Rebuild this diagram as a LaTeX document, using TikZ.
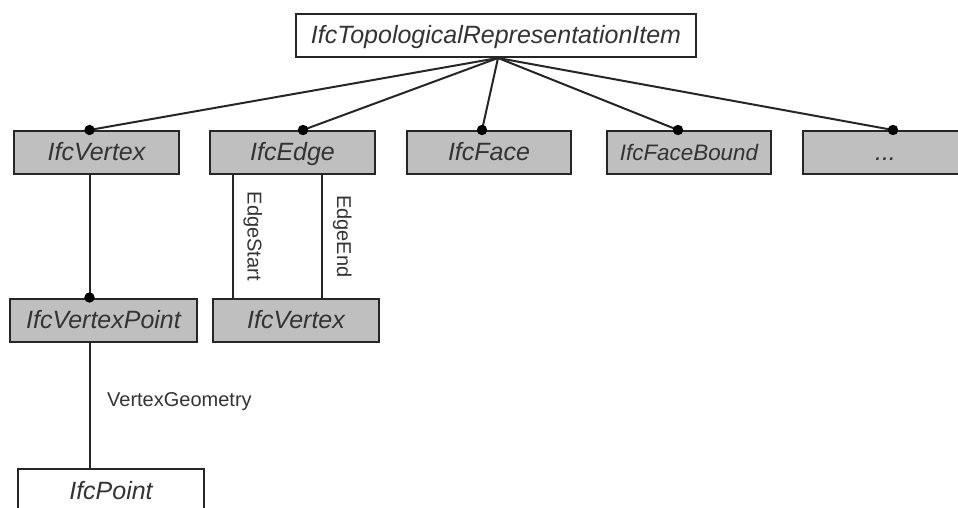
\documentclass[tikz,border=0pt]{standalone}
\usepackage{fontspec}
\setmainfont{Liberation Sans}
\usetikzlibrary{positioning,calc}

\tikzset{
    ifcbox/.style={draw=black!85, line width=1pt, fill=gray!50, text=black!80,
        font=\itshape\fontsize{12.5}{15}\selectfont, text height=10.5pt, text depth=2pt,
        minimum height=21.5pt, minimum width=82.5pt, inner sep=0pt},
    rolename/.style={font=\fontsize{10}{12}\selectfont, text=black!80},
    link/.style={draw=black!85, line width=1pt}
}

\begin{document}
\begin{tikzpicture}[x=0.5pt, y=-0.5pt]
        \useasboundingbox (0,0) rectangle (958,508);
        \clip (0,0) rectangle (958,508);

        % the classes - coordinates are pixel positions of the box centres
        \node[ifcbox, fill=white, minimum width=200pt] (topo) at (496,35.5) {IfcTopologicalRepresentationItem};
        \node[ifcbox] (vtx) at (96.5,152.5) {IfcVertex};
        \node[ifcbox] (edge) at (292.5,152.5) {IfcEdge};
        \node[ifcbox, minimum width=82pt] (face) at (489,152.5) {IfcFace};
        \node[ifcbox, minimum width=82pt, font=\itshape\fontsize{11.2}{14}\selectfont] (fbound) at (689,152.5) {IfcFaceBound};
        \node[ifcbox] (more) at (885.5,152.5) {...};
        \node[ifcbox, minimum width=93.5pt] (vtxpt) at (103.5,320) {IfcVertexPoint};
        \node[ifcbox, minimum width=83pt] (vtxedge) at (296,320) {IfcVertex};
        \node[ifcbox, fill=white, minimum width=93pt] (point) at (111,490.5) {IfcPoint};

        % where the dots sit on the subtypes
        \coordinate (d-vtx) at ([xshift=-3.5pt]vtx.north);
        \coordinate (d-edge) at ([xshift=5.25pt]edge.north);
        \coordinate (d-face) at ([xshift=-3.5pt]face.north);
        \coordinate (d-fbound) at ([xshift=-5.5pt]fbound.north);
        \coordinate (d-more) at ([xshift=3.75pt]more.north);
        \coordinate (d-vtxpt) at ([xshift=-7pt]vtxpt.north);

        \foreach \c in {vtx,edge,face,fbound,more}
            \draw[link] ([xshift=1pt]topo.south) -- (d-\c);                % subtype fan
        \draw[link] ([xshift=-3.5pt]vtx.south) -- (d-vtxpt);                  % vertex -> vertex point
        \draw[link] ([xshift=-7pt]vtxpt.south) -- node[rolename, pos=.47, right=5pt] {VertexGeometry} ([xshift=-10.75pt]point.north);
        \draw[link] ([xshift=-30pt]edge.south) -- node[rolename, rotate=-90, anchor=south, inner sep=5pt] {EdgeStart} ([xshift=-31.75pt]vtxedge.north);
        \draw[link] ([xshift=14.75pt]edge.south) -- node[rolename, rotate=-90, anchor=south, inner sep=5pt] {EdgeEnd} ([xshift=13pt]vtxedge.north);

        \foreach \c in {vtx,edge,face,fbound,more,vtxpt}
            \fill[black] (d-\c) circle (2.6pt);
    \end{tikzpicture}
\end{document}
